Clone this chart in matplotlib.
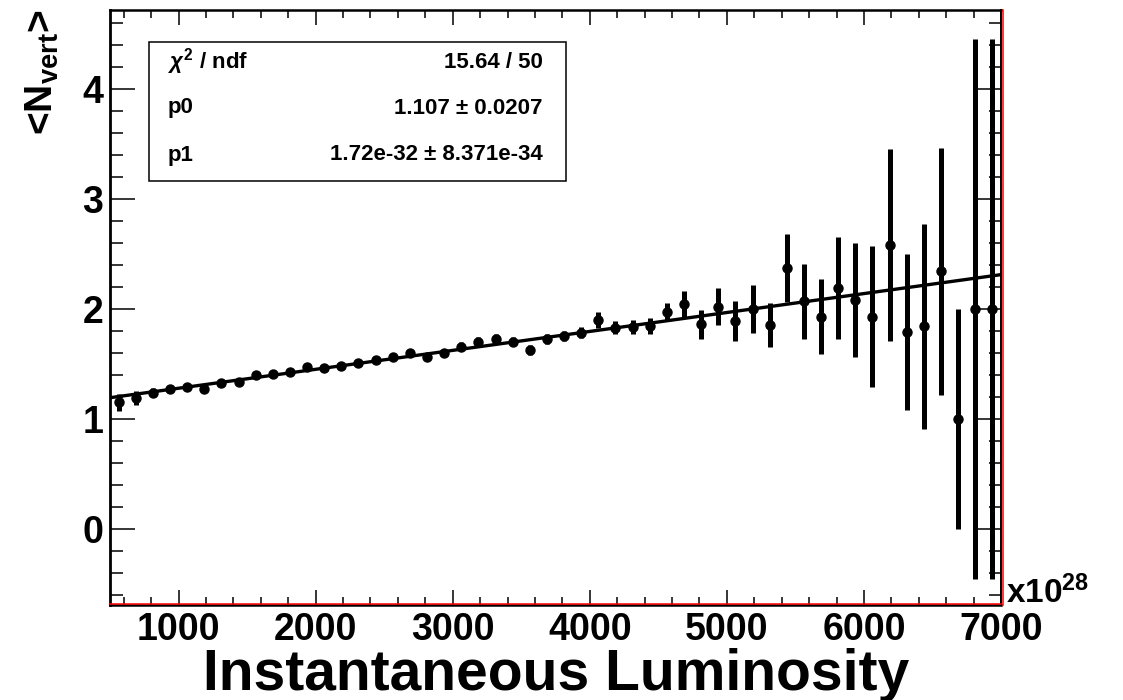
# <N_vert> vs instantaneous luminosity, with the linear fit and stat box

import matplotlib
matplotlib.use("Agg")
import matplotlib.pyplot as plt
import matplotlib.transforms as mtransforms
from matplotlib.patches import Rectangle
from matplotlib.ticker import MultipleLocator
import numpy as np

# bin centres (x10^28), bins of 125 from 500 to 7000
lumi = [562.5, 687.5, 812.5, 937.5, 1062.5, 1187.5, 1312.5, 1437.5, 1562.5, 1687.5,
        1812.5, 1937.5, 2062.5, 2187.5, 2312.5, 2437.5, 2562.5, 2687.5, 2812.5, 2937.5,
        3062.5, 3187.5, 3312.5, 3437.5, 3562.5, 3687.5, 3812.5, 3937.5, 4062.5, 4187.5,
        4312.5, 4437.5, 4562.5, 4687.5, 4812.5, 4937.5, 5062.5, 5187.5, 5312.5, 5437.5,
        5562.5, 5687.5, 5812.5, 5937.5, 6062.5, 6187.5, 6312.5, 6437.5, 6562.5, 6687.5,
        6812.5, 6937.5]

nvert = [1.15, 1.19, 1.24, 1.27, 1.29, 1.27, 1.33, 1.34, 1.40, 1.41,
         1.43, 1.47, 1.46, 1.48, 1.51, 1.54, 1.56, 1.60, 1.56, 1.60,
         1.655, 1.70, 1.73, 1.70, 1.625, 1.73, 1.75, 1.785, 1.90, 1.83,
         1.836, 1.845, 1.97, 2.04, 1.86, 2.02, 1.89, 2.00, 1.85, 2.37,
         2.07, 1.93, 2.19, 2.08, 1.93, 2.58, 1.79, 1.84, 2.34, 1.00,
         2.00, 2.00]

nvert_err = [0.08, 0.06, 0.04, 0.035, 0.035, 0.035, 0.035, 0.035, 0.035, 0.035,
             0.035, 0.035, 0.035, 0.035, 0.035, 0.035, 0.035, 0.035, 0.035, 0.035,
             0.04, 0.045, 0.045, 0.04, 0.045, 0.045, 0.045, 0.05, 0.07, 0.06,
             0.06, 0.07, 0.08, 0.12, 0.13, 0.17, 0.18, 0.22, 0.20, 0.31,
             0.34, 0.34, 0.46, 0.52, 0.64, 0.87, 0.71, 0.93, 1.12, 1.00,
             2.45, 2.45]

# fit result, pol1 in lumi*1e28
p0 = 1.107
p1 = 1.72e-32
fit_range = [500, 7000]

stat_names = [r"$\chi^{2}$ / ndf", "p0", "p1"]
stat_values = ["15.64 / 50", "1.107 \u00b1 0.0207", "1.72e-32 \u00b1 8.371e-34"]


def main():
    plt.rcParams['font.family'] = ['Liberation Sans', 'DejaVu Sans']
    plt.rcParams['font.weight'] = 'bold'
    plt.rcParams['mathtext.fontset'] = 'custom'
    plt.rcParams['mathtext.rm'] = 'Liberation Sans:bold'
    plt.rcParams['mathtext.bf'] = 'Liberation Sans:bold'
    plt.rcParams['mathtext.it'] = 'Liberation Sans:italic:bold'

    W, H = 1123, 700
    fig = plt.figure(figsize=(W / 100, H / 100), dpi=100)
    ax = fig.add_axes([110 / W, 1 - 605 / H, (1001 - 110) / W, (605 - 10) / H])

    # data points
    ax.errorbar(lumi, nvert, yerr=nvert_err, fmt='o', color='black', ms=6.5,
                elinewidth=3.6, capsize=0, zorder=3)

    # fit line
    xf = np.linspace(fit_range[0], fit_range[1], 200)
    ax.plot(xf, p0 + p1 * xf * 1e28, color='black', lw=2.4, zorder=4)

    ax.set_xlim(500, 7000)
    ax.set_ylim(-0.69, 4.715)

    ax.xaxis.set_major_locator(MultipleLocator(1000))
    ax.xaxis.set_minor_locator(MultipleLocator(200))
    ax.yaxis.set_major_locator(MultipleLocator(1))
    ax.yaxis.set_minor_locator(MultipleLocator(0.2))

    ax.tick_params(axis='both', which='both', direction='in', top=True, right=True,
                   width=1.1, colors='black')
    ax.tick_params(axis='x', which='major', length=11, pad=5, labelsize=27)
    ax.tick_params(axis='x', which='minor', length=6)
    ax.tick_params(axis='y', which='major', length=18, pad=5, labelsize=27)
    ax.tick_params(axis='y', which='minor', length=9)
    for lab in ax.get_xticklabels() + ax.get_yticklabels():
        lab.set_fontweight('bold')

    ax.spines['left'].set_linewidth(2.0)
    ax.spines['top'].set_linewidth(1.8)
    ax.spines['bottom'].set_linewidth(1.8)
    ax.spines['right'].set_linewidth(1.4)

    # red frame lines on bottom and right like the ROOT canvas
    up = mtransforms.ScaledTranslation(0, 1.2 / 100, fig.dpi_scale_trans)
    rt = mtransforms.ScaledTranslation(2.0 / 100, 0, fig.dpi_scale_trans)
    ax.plot([0, 1], [0, 0], color='red', lw=1.1, transform=ax.transAxes + up,
            clip_on=False, zorder=6)
    ax.plot([1, 1], [0, 1], color='red', lw=1.1, transform=ax.transAxes + rt,
            clip_on=False, zorder=6)

    # axis titles
    fig.text(556 / W, 1 - 690 / H, "Instantaneous Luminosity", ha='center',
             va='baseline', fontsize=41, fontweight='bold')
    fig.text(42 / W, 1 - 72 / H, r"<N$_{\rm vert}$>", rotation=90, ha='center',
             va='center', fontsize=28, fontweight='bold')
    fig.text(1006 / W, 1 - 603 / H, r"x10$^{\rm 28}$", ha='left', va='baseline',
             fontsize=24, fontweight='bold')

    # stat box
    fig.add_artist(Rectangle((149 / W, 1 - 181 / H), (566 - 149) / W, (181 - 42) / H,
                             transform=fig.transFigure, fill=False, lw=1.1,
                             edgecolor='black'))
    rows = [62, 108, 155]
    for name, val, yrow in zip(stat_names, stat_values, rows):
        fig.text(168 / W, 1 - yrow / H, name, ha='left', va='center', fontsize=16,
                 fontweight='bold')
        fig.text(543 / W, 1 - yrow / H, val, ha='right', va='center', fontsize=16,
                 fontweight='bold')

    fig.savefig("out.png", dpi=100)


if __name__ == "__main__":
    main()
